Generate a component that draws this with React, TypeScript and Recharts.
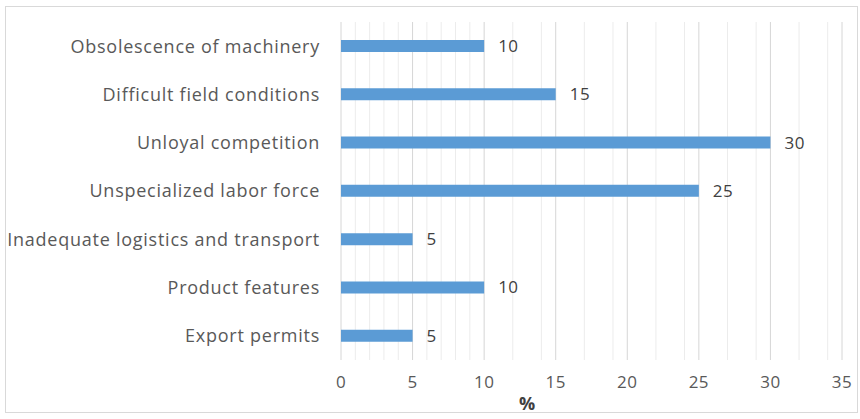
import React from "react";
import {
  BarChart,
  Bar,
  XAxis,
  YAxis,
  CartesianGrid,
  LabelList,
} from "recharts";

const categories = [
  "Obsolescence of machinery",
  "Difficult field conditions",
  "Unloyal competition",
  "Unspecialized labor force",
  "Inadequate logistics and transport",
  "Product features",
  "Export permits",
];
const percents = [10, 15, 30, 25, 5, 10, 5];
const majorTicks = [0, 5, 10, 15, 20, 25, 30, 35];
const minorTicks = [
  1, 2, 3, 4, 6, 7, 8, 9, 11, 12, 13, 14, 16, 17, 18, 19, 21, 22, 23, 24, 26,
  27, 28, 29, 31, 32, 33, 34,
];

const data = categories.map((name, i) => ({ name, value: percents[i] }));

const font = "'Open Sans', sans-serif";

const App: React.FC = () => {
  return (
    <div
      style={{
        position: "absolute",
        left: 0,
        top: 0,
        width: 860,
        height: 419,
        background: "#fff",
        fontFamily: font,
      }}
    >
      <div
        style={{
          position: "absolute",
          left: 5,
          top: 6,
          width: 851,
          height: 405,
          border: "1px solid #d9d9d9",
        }}
      />
      <BarChart
        width={860}
        height={419}
        data={data}
        layout="vertical"
        margin={{ top: 22, right: 18, bottom: 29, left: 0 }}
      >
        <CartesianGrid
          horizontal={false}
          verticalValues={minorTicks}
          stroke="#ececec"
        />
        <CartesianGrid
          horizontal={false}
          verticalValues={majorTicks}
          stroke="#d6d6d6"
        />
        <XAxis
          type="number"
          domain={[0, 35]}
          ticks={majorTicks}
          axisLine={false}
          tickLine={false}
          tickSize={0}
          tickMargin={16}
          tick={{ fill: "#595959", fontSize: 17, fontFamily: font, letterSpacing: 0.5 }}
        />
        <YAxis
          type="category"
          dataKey="name"
          width={341}
          axisLine={false}
          tickLine={false}
          tickSize={0}
          tickMargin={21}
          tick={{ fill: "#595959", fontSize: 18, fontFamily: font, letterSpacing: 0.75 }}
        />
        <Bar
          dataKey="value"
          fill="#5b9bd5"
          barSize={12}
          isAnimationActive={false}
        >
          <LabelList
            dataKey="value"
            position="right"
            offset={14}
            fill="#404040"
            fontSize={17}
            fontFamily={font}
            letterSpacing={0.5}
          />
        </Bar>
      </BarChart>
      <div
        style={{
          position: "absolute",
          left: 519,
          top: 391,
          fontSize: 18,
          fontWeight: "bold",
          color: "#404040",
        }}
      >
        %
      </div>
    </div>
  );
};

export default App;
